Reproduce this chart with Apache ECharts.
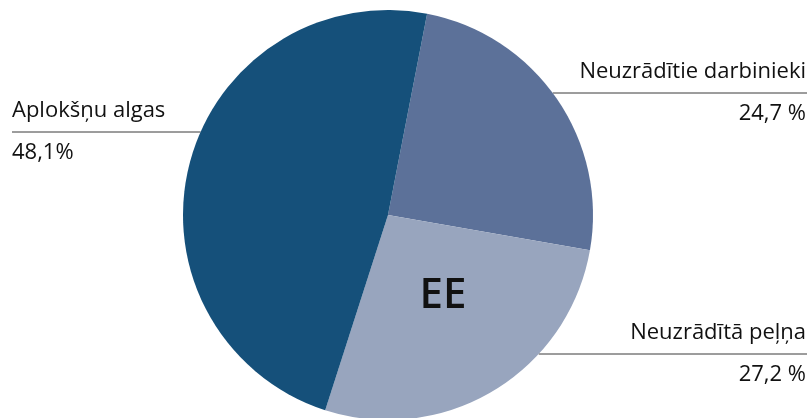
<!DOCTYPE html>
<html>
<head>
<meta charset="utf-8">
<script src="https://cdn.jsdelivr.net/npm/echarts@6/dist/echarts.min.js"></script>
<style>html,body{margin:0;padding:0;background:#fff;}#c{width:811px;height:418px;}</style>
</head>
<body>
<div id="c"></div>
<script>
const categories = ['Neuzrādītie darbinieki', 'Neuzrādītā peļņa', 'Aplokšņu algas'];
const values = [24.7, 27.2, 48.1];
const valueLabels = ['24,7 %', '27,2 %', '48,1%'];
const colors = ['#5c7199', '#98a5be', '#15507a'];
const centerText = 'EE';

const CX = 388, CY = 215, R = 205;
// label line layout (y of horizontal line, side)
const labelSpec = [
  { y: 93, side: 'right' },
  { y: 354, side: 'right' },
  { y: 132, side: 'left' }
];

const chart = echarts.init(document.getElementById('c'), null, { renderer: 'canvas' });
const FONT = 'Open Sans';

chart.setOption({
  animation: false,
  backgroundColor: '#fff',
  series: [{
    type: 'pie',
    center: [CX, CY],
    radius: [0, R],
    startAngle: 79,
    clockwise: true,
    data: categories.map((n, i) => ({ name: n, value: values[i], itemStyle: { color: colors[i] } })),
    label: {
      show: true,
      position: 'outside',
      formatter: p => '{n|' + p.name + '}\n{v|' + valueLabels[p.dataIndex] + '}',
      rich: {
        n: { fontFamily: FONT, fontSize: 22, lineHeight: 42, color: '#111' },
        v: { fontFamily: FONT, fontSize: 22, lineHeight: 42, color: '#111' }
      }
    },
    labelLine: {
      show: true,
      length: 0,
      length2: 10,
      smooth: false,
      lineStyle: { color: '#3a3a3a', width: 1 }
    },
    labelLayout: function (params) {
      const s = labelSpec[params.dataIndex];
      const dy = s.y - CY;
      const dx = Math.sqrt(R * R - dy * dy);
      if (s.side === 'right') {
        const x0 = CX + dx;
        return {
          x: 806, y: s.y, align: 'right', verticalAlign: 'middle',
          labelLinePoints: [[x0, s.y], [x0, s.y], [807, s.y]]
        };
      } else {
        const x0 = CX - dx;
        return {
          x: 12, y: s.y, align: 'left', verticalAlign: 'middle',
          labelLinePoints: [[x0, s.y], [x0, s.y], [12, s.y]]
        };
      }
    }
  }],
  graphic: {
    elements: [{
      type: 'text',
      x: 443,
      y: 296,
      z: 100,
      style: {
        text: centerText,
        fill: '#111',
        fontSize: 42,
        fontWeight: 600,
        fontFamily: FONT,
        align: 'center',
        verticalAlign: 'middle'
      }
    }]
  }
});
</script>
</body>
</html>
